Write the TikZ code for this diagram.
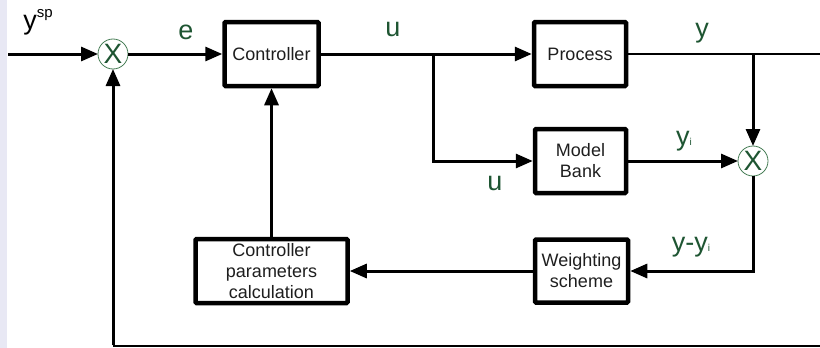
\documentclass[tikz,border=0pt]{standalone}
\usepackage{fontspec}
\setmainfont{Liberation Sans}
\usetikzlibrary{arrows.meta}
\definecolor{lblc}{RGB}{30,85,50}
\definecolor{ringc}{RGB}{70,125,85}
\definecolor{stripc}{RGB}{232,232,244}
\definecolor{txtc}{RGB}{30,30,30}
\begin{document}
\begin{tikzpicture}[x=1pt,y=-1pt,
  blk/.style={draw, line width=4.5pt, rounded corners=1pt, inner sep=0pt, outer sep=2.25pt, align=center, text=txtc, font=\fontsize{18}{21}\selectfont},
  sumnode/.style={circle, draw=ringc, line width=0.8pt, minimum size=30pt, inner sep=0pt, outer sep=0pt, text=lblc, font=\fontsize{28}{28}\selectfont},
  lbl/.style={text=lblc, inner sep=0pt, font=\fontsize{27}{27}\selectfont},
  conn/.style={line width=3pt},
  arr/.style={conn, -{Triangle[length=17pt,width=14pt]}}]
\useasboundingbox (0,0) rectangle (820,348);
\fill[stripc] (0,0) rectangle (7,348);

\node[blk, minimum width=94pt, minimum height=64pt] (ctrl) at (271.5,54) {Controller};
\node[blk, minimum width=92pt, minimum height=64pt] (proc) at (580,54) {Process};
\node[blk, minimum width=91pt, minimum height=64pt] (mb) at (580.5,161) {Model\\Bank};
\node[blk, minimum width=93pt, minimum height=63pt] (ws) at (581.5,271) {Weighting\\scheme};
\node[blk, minimum width=152pt, minimum height=64pt] (cpc) at (271.5,271) {Controller\\parameters\\calculation};

\node[sumnode] (s1) at (113,54) {X};
\node[sumnode] (s2) at (753,161) {X};

\coordinate (in) at (8,54);
\coordinate (bu) at (433,54);
\coordinate (by) at (753,54);
\coordinate (out) at (820,54);
\coordinate (fbr) at (820,346);
\coordinate (fbl) at (113,346);

\draw[arr] (in) -- (s1);
\draw[arr] (s1) -- (ctrl);
\draw[arr] (ctrl) -- (proc);
\draw[line width=2.5pt] (proc.east) -- (out);
\draw[arr] (bu) |- (mb.west);
\draw[arr] (by) -- (s2);
\draw[arr] (mb) -- (s2);
\draw[arr] (s2) |- (ws.east);
\draw[arr] (ws) -- (cpc);
\draw[arr] (cpc) -- (ctrl);
\draw[line width=1.5pt] (fbr) -- (fbl);
\draw[arr] ([yshift=0.75pt]fbl) -- (s1);

\node[inner sep=0pt, font=\fontsize{27}{27}\selectfont] (lysp) at (38,22) {y\raisebox{12pt}{\fontsize{15}{15}\selectfont sp}};
\node[lbl] (le) at (186,32.5) {e};
\node[lbl] (lu) at (393,29) {u};
\node[lbl] (lu2) at (495,183) {u};
\node[lbl] (ly) at (702,33) {y};
\node[lbl] (lyi) at (684,141) {y{\fontsize{10}{10}\selectfont i}};
\node[lbl] (lyyi) at (691,247) {y-y{\fontsize{10}{10}\selectfont i}};
\end{tikzpicture}
\end{document}
